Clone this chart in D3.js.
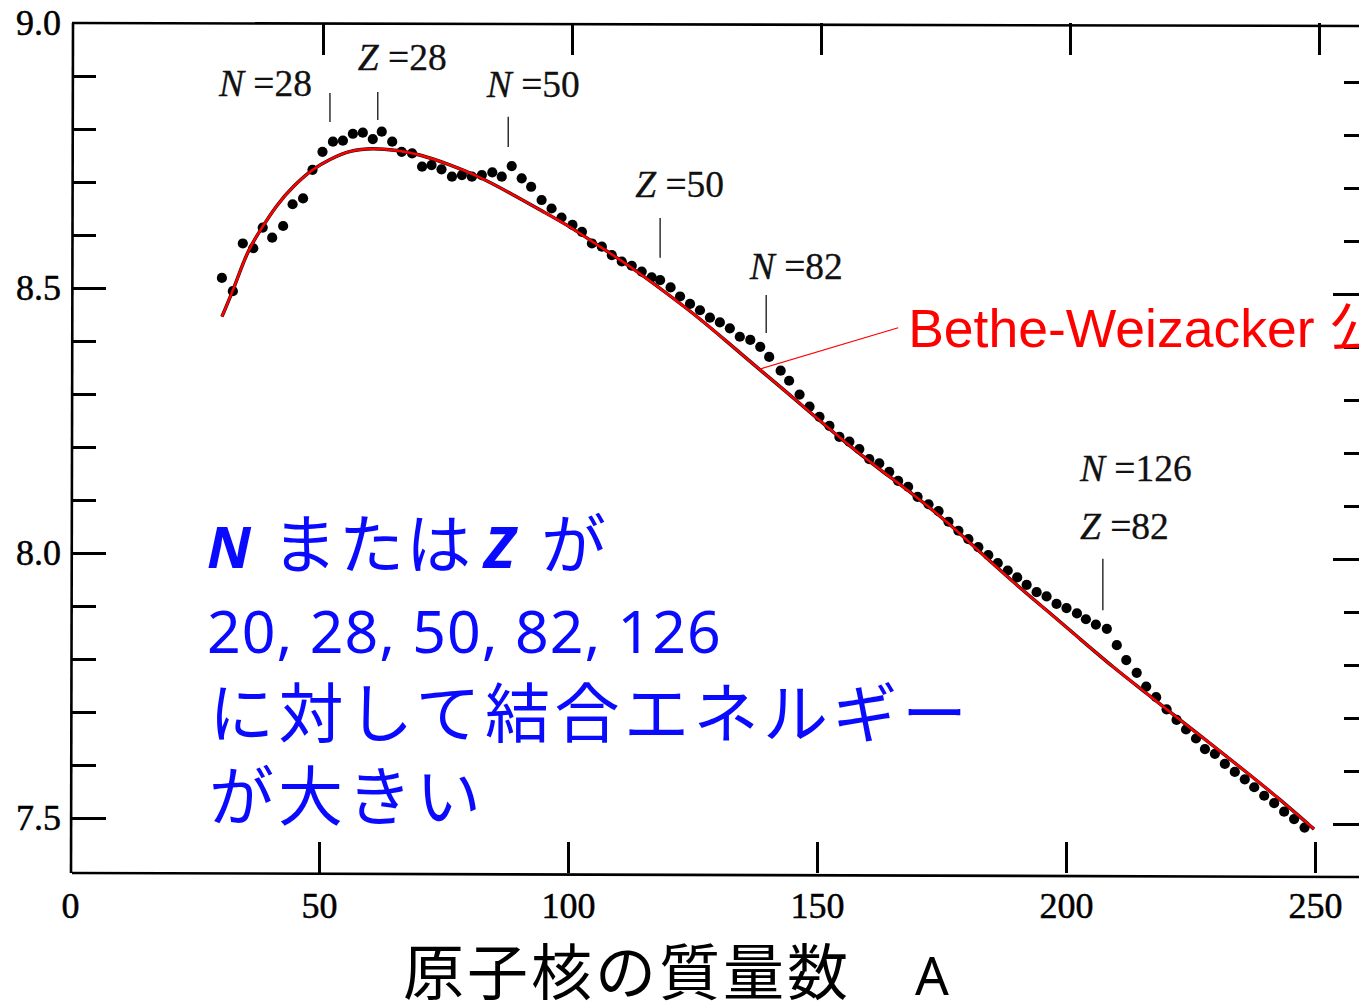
<!DOCTYPE html>
<html><head><meta charset="utf-8">
<script src="https://cdn.jsdelivr.net/npm/d3@7"></script>
<style>html,body{margin:0;padding:0;background:#fff;overflow:hidden}</style>
</head><body>
<svg id="chart" width="1359" height="1005"></svg>
<script>
// ---------------- data ----------------
const massNumber = [30.5, 32.7, 34.7, 36.8, 38.7, 40.6, 42.8, 44.7, 46.8, 48.7, 50.7, 52.8, 54.8, 56.8, 58.8, 60.8, 62.6, 64.7, 66.6, 68.7,
  70.7, 72.6, 74.6, 76.7, 78.7, 80.7, 82.7, 84.8, 86.7, 88.7, 90.7, 92.6, 94.7, 96.7, 98.7, 100.9, 102.8, 104.8, 106.8, 108.8,
  110.8, 112.8, 114.8, 116.8, 118.5, 120.6, 122.5, 124.5, 126.5, 128.5, 130.5, 132.5, 134.5, 136.6, 138.6, 140.4, 142.7, 144.4, 146.5, 148.5,
  150.5, 152.5, 154.5, 156.5, 158.5, 160.5, 162.5, 164.5, 166.3, 168.3, 170.2, 172.4, 174.4, 176.4, 178.4, 180.4, 182.4, 184.4, 186.3, 188.3,
  190.2, 192.1, 194.1, 196.1, 198.1, 200.1, 202.2, 204.0, 206.0, 208.2, 210.2, 212.1, 214.2, 216.1, 218.1, 220.2, 222.2, 224.1, 226.1, 227.9,
  229.9, 231.9, 233.9, 235.9, 237.8, 239.8, 241.8, 243.8, 245.8, 247.9];
const bindingEnergy = [8.519, 8.494, 8.584, 8.575, 8.614, 8.595, 8.617, 8.658, 8.669, 8.723, 8.757, 8.776, 8.778, 8.791, 8.793, 8.781, 8.795, 8.776, 8.757, 8.754,
  8.729, 8.732, 8.724, 8.710, 8.713, 8.710, 8.713, 8.718, 8.710, 8.730, 8.707, 8.691, 8.666, 8.650, 8.633, 8.619, 8.606, 8.584, 8.578, 8.562,
  8.550, 8.542, 8.531, 8.520, 8.515, 8.501, 8.484, 8.470, 8.458, 8.444, 8.435, 8.424, 8.408, 8.402, 8.389, 8.370, 8.344, 8.325, 8.299, 8.276,
  8.257, 8.240, 8.219, 8.210, 8.196, 8.177, 8.169, 8.153, 8.136, 8.125, 8.106, 8.092, 8.079, 8.059, 8.042, 8.026, 8.011, 7.996, 7.981, 7.967,
  7.954, 7.940, 7.926, 7.918, 7.904, 7.896, 7.886, 7.875, 7.865, 7.857, 7.826, 7.798, 7.774, 7.748, 7.728, 7.705, 7.685, 7.667, 7.650, 7.630,
  7.621, 7.602, 7.587, 7.573, 7.558, 7.542, 7.528, 7.512, 7.498, 7.482];

// Bethe-Weizsacker formula curve
const bwMassNumber = [30.5, 32.8, 35.5, 38.2, 41.5, 44.8, 48.9, 52.2, 56.2, 60.9, 65.6, 70.3, 75.6, 82.3, 88.4, 95.0, 100.4, 106.4, 113.1, 119.8,
  125.2, 131.9, 138.6, 142.6, 149.3, 156.0, 162.7, 169.3, 176.0, 182.7, 189.4, 196.1, 202.8, 209.5, 216.2, 222.9, 229.6, 236.3, 243.0, 249.8];
const bwBindingEnergy = [8.446, 8.496, 8.568, 8.609, 8.657, 8.692, 8.726, 8.743, 8.760, 8.764, 8.760, 8.752, 8.735, 8.710, 8.679, 8.644, 8.616, 8.578, 8.537, 8.490,
  8.452, 8.399, 8.345, 8.314, 8.260, 8.206, 8.157, 8.111, 8.060, 8.002, 7.945, 7.892, 7.838, 7.784, 7.735, 7.685, 7.636, 7.586, 7.535, 7.479];

const xTickValues = [50, 100, 150, 200, 250];
const xTickLabels = [0, 50, 100, 150, 200, 250];
const yTickLabels = [9.0, 8.5, 8.0, 7.5];
const yMajorTicks = [8.5, 8.0, 7.5];
const yMinorTicks = [8.9, 8.8, 8.7, 8.6, 8.4, 8.3, 8.2, 8.1, 7.9, 7.8, 7.7, 7.6];

// magic number annotations
const magicSymbols = ["N", "Z", "N", "Z", "N", "N", "Z"];
const magicValues = ["28", "28", "50", "50", "82", "126", "82"];
const magicMarkerA = [52.2, 61.8, 88.0, 118.5, 139.8, 207.4];
const magicMarkerTop = [8.868, 8.870, 8.823, 8.632, 8.487, 7.989];
const magicMarkerBottom = [8.813, 8.817, 8.766, 8.557, 8.415, 7.892];
const magicLabelA = [29.9, 57.8, 83.7, 113.5, 136.5, 202.8, 202.8];
const magicLabelB = [8.862, 8.911, 8.860, 8.672, 8.517, 8.136, 8.026];

const bwLabel = "Bethe-Weizacker 公式";
const xTitle = "原子核の質量数";
const xTitleUnit = "A";
const noteLine2 = "20, 28, 50, 82, 126";
const noteLine3 = "に対して結合エネルギー";
const noteLine4 = "が大きい";

// ---------------- drawing ----------------
const svg = d3.select("#chart");
const x = d3.scaleLinear().domain([0, 250]).range([70, 1315]);
const y = d3.scaleLinear().domain([7.5, 9.0]).range([818, 23]);

const frameLeft = 72, frameTop = 23, frameBottom = 873, frameRight = 1368;
const serif = "'Liberation Serif','DejaVu Serif',serif";

// frame
const frame = svg.append("g").attr("stroke", "#000").attr("stroke-width", 2.6).attr("fill", "none");
frame.append("line").attr("x1", frameLeft).attr("x2", frameRight).attr("y1", frameTop).attr("y2", frameTop + 3);
frame.append("line").attr("x1", frameLeft).attr("x2", frameRight).attr("y1", frameBottom).attr("y2", frameBottom + 4);
frame.append("line").attr("x1", frameLeft + 1).attr("x2", frameLeft - 1).attr("y1", frameTop).attr("y2", frameBottom);

function styleTicks(g) {
  g.select(".domain").remove();
  g.selectAll(".tick line").attr("stroke", "#000").attr("stroke-width", 3);
}
function styleLabels(g) {
  g.select(".domain").remove();
  g.selectAll(".tick line").remove();
  g.selectAll("text").attr("font-family", serif).attr("font-size", 36).attr("fill", "#000")
    .attr("stroke", "#000").attr("stroke-width", 0.5);
}

// left axis ticks (inward)
svg.append("g").attr("transform", `translate(${frameLeft},0)`)
  .call(d3.axisRight(y).tickValues(yMinorTicks).tickSize(24).tickFormat(""))
  .call(styleTicks);
svg.append("g").attr("transform", `translate(${frameLeft},0)`)
  .call(d3.axisRight(y).tickValues(yMajorTicks).tickSize(34).tickFormat(""))
  .call(styleTicks);
// left labels
svg.append("g").attr("transform", `translate(${frameLeft},0)`)
  .call(d3.axisLeft(y).tickValues(yTickLabels).tickSize(0).tickPadding(11).tickFormat(d3.format(".1f")))
  .call(styleLabels);

// right axis ticks (inward)
svg.append("g").attr("transform", `translate(${frameRight},6)`)
  .call(d3.axisLeft(y).tickValues(yMinorTicks).tickSize(24).tickFormat(""))
  .call(styleTicks);
svg.append("g").attr("transform", `translate(${frameRight},6)`)
  .call(d3.axisLeft(y).tickValues(yMajorTicks).tickSize(35).tickFormat(""))
  .call(styleTicks);

// bottom ticks (inward, up)
svg.append("g").attr("transform", `translate(0,${frameBottom})`)
  .call(d3.axisTop(x).tickValues(xTickValues).tickSize(31).tickFormat(""))
  .call(styleTicks);
// top ticks (inward, down)
svg.append("g").attr("transform", `translate(4,${frameTop})`)
  .call(d3.axisBottom(x).tickValues(xTickValues).tickSize(32).tickFormat(""))
  .call(styleTicks);
// bottom labels
svg.append("g").attr("transform", `translate(0,${frameBottom})`)
  .call(d3.axisBottom(x).tickValues(xTickLabels).tickSize(0).tickPadding(19).tickFormat(d3.format("d")))
  .call(styleLabels);

// data points
const pts = massNumber.map((a, i) => ({a, b: bindingEnergy[i]}));
svg.append("g").selectAll("circle").data(pts).join("circle")
  .attr("cx", d => x(d.a)).attr("cy", d => y(d.b)).attr("r", 5.1).attr("fill", "#000");

// Bethe-Weizsacker curve
const curvePts = bwMassNumber.map((a, i) => ({a, b: bwBindingEnergy[i]}));
const line = d3.line().x(d => x(d.a)).y(d => y(d.b)).curve(d3.curveBasis);
svg.append("path").datum(curvePts).attr("d", line)
  .attr("fill", "none").attr("stroke", "#111").attr("stroke-width", 3.4);
svg.append("path").datum(curvePts).attr("d", line)
  .attr("fill", "none").attr("stroke", "#ff0000").attr("stroke-width", 2.4);

// leader line and label
svg.append("line")
  .attr("x1", x(138.5)).attr("y1", y(8.347)).attr("x2", x(166.3)).attr("y2", y(8.425))
  .attr("stroke", "#ff0000").attr("stroke-width", 1.3);
svg.append("text").attr("x", x(168.3)).attr("y", y(8.389))
  .attr("font-family", "'Liberation Sans',Arial,'Noto Sans CJK JP',sans-serif")
  .attr("font-size", 53.5).attr("fill", "#ff0000").text(bwLabel);

// magic-number markers
const markers = magicMarkerA.map((a, i) => ({a, t: magicMarkerTop[i], b: magicMarkerBottom[i]}));
svg.append("g").selectAll("line").data(markers).join("line")
  .attr("x1", d => x(d.a)).attr("x2", d => x(d.a))
  .attr("y1", d => y(d.t)).attr("y2", d => y(d.b))
  .attr("stroke", "#222").attr("stroke-width", 1.4);

const labels = magicSymbols.map((s, i) => ({s, v: magicValues[i], a: magicLabelA[i], b: magicLabelB[i]}));
const lt = svg.append("g").selectAll("text").data(labels).join("text")
  .attr("x", d => x(d.a)).attr("y", d => y(d.b))
  .attr("font-family", serif).attr("font-size", 37.5).attr("fill", "#111")
  .attr("stroke", "#111").attr("stroke-width", 0.3);
lt.append("tspan").attr("font-style", "italic").text(d => d.s);
lt.append("tspan").text(d => " =" + d.v);

// blue note
const blue = "#0a0aff";
const jp = "'Noto Sans CJK JP','Noto Sans CJK SC',sans-serif";
const lat = "'Noto Sans','Open Sans',sans-serif";
const note = svg.append("g").attr("fill", blue);
const l1 = note.append("text").attr("y", 568);
l1.append("tspan").attr("x", 207).attr("font-family", lat).attr("font-weight", "bold").attr("font-style", "italic").attr("font-size", 58).text("N");
l1.append("tspan").attr("x", 272).attr("font-family", jp).attr("font-size", 65).attr("letter-spacing", 2).text("または");
l1.append("tspan").attr("x", 484).attr("font-family", lat).attr("font-weight", "bold").attr("font-style", "italic").attr("font-size", 58).text("Z");
l1.append("tspan").attr("x", 541).attr("font-family", jp).attr("font-size", 65).text("が");
note.append("text").attr("x", 207).attr("y", 653).attr("font-family", lat).attr("font-size", 59)
  .attr("letter-spacing", 1).text(noteLine2);
note.append("text").attr("x", 209).attr("y", 737).attr("font-family", jp).attr("font-size", 65).attr("letter-spacing", 4.5).text(noteLine3);
note.append("text").attr("x", 209).attr("y", 820).attr("font-family", jp).attr("font-size", 65).attr("letter-spacing", 4).text(noteLine4);

// x-axis title
svg.append("text").attr("x", 403).attr("y", 995).attr("font-family", jp).attr("font-size", 61)
  .attr("letter-spacing", 3).attr("fill", "#000").text(xTitle);
svg.append("text").attr("x", 915).attr("y", 995).attr("font-family", lat).attr("font-size", 53)
  .attr("fill", "#000").text(xTitleUnit);
</script>
</body></html>
